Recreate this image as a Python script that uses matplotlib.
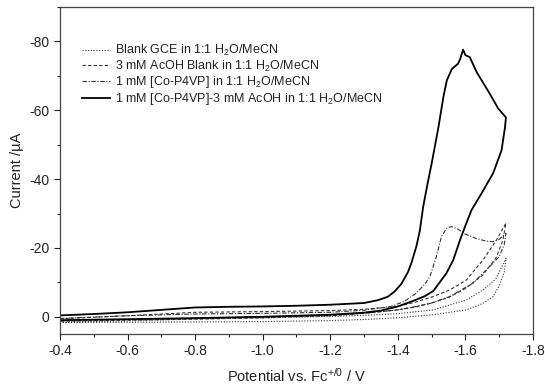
import matplotlib
matplotlib.use("Agg")
import matplotlib.pyplot as plt
from matplotlib.ticker import MultipleLocator

plt.rcParams['font.family'] = ['Liberation Sans', 'DejaVu Sans']
plt.rcParams['mathtext.default'] = 'regular'
plt.rcParams['axes.unicode_minus'] = False

# Blank GCE
dot_fwd_v = [-0.40, -0.60, -0.80, -1.00, -1.20, -1.30, -1.40, -1.505, -1.603, -1.652, -1.69, -1.72]
dot_fwd_i = [1.5, 1.2, 0.6, 0.3, -0.1, -0.4, -0.9, -2.0, -4.9, -7.8, -11.0, -17.0]
dot_ret_v = [-1.72, -1.715, -1.70, -1.682, -1.65, -1.603, -1.505, -1.40, -1.30, -1.20, -1.00, -0.80, -0.60, -0.40]
dot_ret_i = [-17.0, -13.0, -9.0, -5.9, -3.8, -2.0, -0.6, 0.3, 0.8, 1.1, 1.4, 1.5, 1.6, 1.7]

# 3 mM AcOH blank
dash_fwd_v = [-0.40, -0.60, -0.80, -1.00, -1.20, -1.30, -1.40, -1.45, -1.505, -1.554, -1.603, -1.652, -1.69, -1.72]
dash_fwd_i = [0.6, -0.3, -1.3, -1.5, -1.8, -2.2, -3.0, -4.2, -5.9, -7.8, -10.7, -16.5, -22.0, -27.2]
dash_ret_v = [-1.72, -1.71, -1.69, -1.65, -1.60, -1.55, -1.50, -1.45, -1.40, -1.30, -1.20, -1.00, -0.80, -0.60, -0.40]
dash_ret_i = [-27.2, -22.0, -17.0, -12.0, -8.2, -5.6, -4.0, -2.8, -2.0, -1.0, -0.3, 0.3, 0.7, 1.0, 1.3]

# 1 mM [Co-P4VP]
dd_fwd_v = [-0.40, -0.60, -0.80, -1.00, -1.20, -1.30, -1.38, -1.42, -1.455, -1.48, -1.495, -1.514, -1.529, -1.545, -1.559, -1.575, -1.60, -1.63, -1.66, -1.68, -1.70, -1.72]
dd_fwd_i = [0.5, -0.3, -0.8, -1.0, -1.3, -1.9, -3.0, -4.5, -6.9, -9.5, -11.7, -17.5, -23.3, -25.8, -26.2, -25.6, -24.0, -22.8, -22.0, -21.8, -22.5, -24.3]
dd_ret_v = [-1.72, -1.715, -1.70, -1.672, -1.623, -1.554, -1.50, -1.455, -1.40, -1.30, -1.20, -1.00, -0.80, -0.60, -0.40]
dd_ret_i = [-24.3, -21.0, -17.5, -14.6, -9.8, -5.9, -4.0, -3.0, -2.0, -1.0, -0.4, 0.0, 0.4, 0.8, 1.0]

# 1 mM [Co-P4VP] + 3 mM AcOH
sol_fwd_v = [-0.40, -0.50, -0.60, -0.70, -0.80, -0.90, -1.00, -1.10, -1.20, -1.30, -1.34, -1.37, -1.39, -1.41, -1.43, -1.44, -1.455, -1.465, -1.475, -1.49, -1.50, -1.52, -1.535, -1.545, -1.56, -1.578, -1.585, -1.593, -1.60, -1.613, -1.633, -1.672, -1.697, -1.72]
sol_fwd_i = [-0.4, -0.8, -1.3, -2.0, -2.7, -2.9, -3.0, -3.2, -3.5, -4.0, -4.8, -5.8, -7.3, -9.5, -13.0, -15.6, -20.5, -25.0, -32.0, -39.7, -44.5, -55.0, -64.0, -68.7, -72.0, -73.5, -75.0, -77.6, -76.0, -75.4, -71.1, -64.8, -60.5, -57.9]
sol_ret_v = [-1.72, -1.717, -1.707, -1.682, -1.648, -1.618, -1.60, -1.584, -1.564, -1.544, -1.52, -1.505, -1.48, -1.445, -1.40, -1.35, -1.30, -1.20, -1.00, -0.80, -0.60, -0.40]
sol_ret_i = [-57.9, -55.0, -48.4, -41.7, -35.9, -31.0, -26.5, -22.3, -16.5, -12.7, -9.5, -7.5, -6.0, -4.6, -3.0, -1.8, -1.2, -0.6, 0.0, 0.4, 0.7, 1.0]

labels = ["Blank GCE in 1:1 H$_2$O/MeCN",
          "3 mM AcOH Blank in 1:1 H$_2$O/MeCN",
          "1 mM [Co-P4VP] in 1:1 H$_2$O/MeCN",
          "1 mM [Co-P4VP]-3 mM AcOH in 1:1 H$_2$O/MeCN"]

x_ticks = [-0.4, -0.6, -0.8, -1.0, -1.2, -1.4, -1.6, -1.8]
y_ticks = [0, -20, -40, -60, -80]

fig = plt.figure(figsize=(5.45, 3.87), dpi=100)
ax = fig.add_axes([0.110, 0.137, 0.868, 0.845])

gray = '#333333'
ax.plot(dot_fwd_v + dot_ret_v, dot_fwd_i + dot_ret_i, color=gray, lw=0.8,
        linestyle=(0, (1, 1.5)), label=labels[0])
ax.plot(dash_fwd_v + dash_ret_v, dash_fwd_i + dash_ret_i, color=gray, lw=0.8,
        linestyle=(0, (3, 2)), label=labels[1])
ax.plot(dd_fwd_v + dd_ret_v, dd_fwd_i + dd_ret_i, color=gray, lw=0.8,
        linestyle=(0, (4, 1.5, 1, 1.5)), label=labels[2])
ax.plot(sol_fwd_v + sol_ret_v, sol_fwd_i + sol_ret_i, color='black', lw=1.3,
        linestyle='-', label=labels[3])

ax.set_xlim(-0.4, -1.8)
ax.set_ylim(5, -90)
ax.set_xticks(x_ticks)
ax.set_xticklabels([f"{t:.1f}" for t in x_ticks])
ax.set_yticks(y_ticks)
ax.xaxis.set_minor_locator(MultipleLocator(0.1))
ax.yaxis.set_minor_locator(MultipleLocator(10))
ax.tick_params(which='major', direction='out', length=4, width=0.8, labelsize=10, colors='#222222')
ax.tick_params(which='minor', direction='out', length=2.5, width=0.8, colors='#222222')
for s in ax.spines.values():
    s.set_linewidth(0.9)
    s.set_color('#444444')

ax.set_xlabel("Potential vs. Fc$^{+/0}$ / V", fontsize=10.5, color='#222222', labelpad=6)
ax.set_ylabel("Current /\u00b5A", fontsize=10.5, color='#222222', labelpad=4)

leg = ax.legend(loc='upper left', bbox_to_anchor=(0.046, 0.89), frameon=False,
                fontsize=9, handlelength=2.25, handletextpad=0.4, labelspacing=0.05,
                borderaxespad=0.0, borderpad=0.0)
for t in leg.get_texts():
    t.set_color('#222222')

fig.savefig("out.png", dpi=100)
